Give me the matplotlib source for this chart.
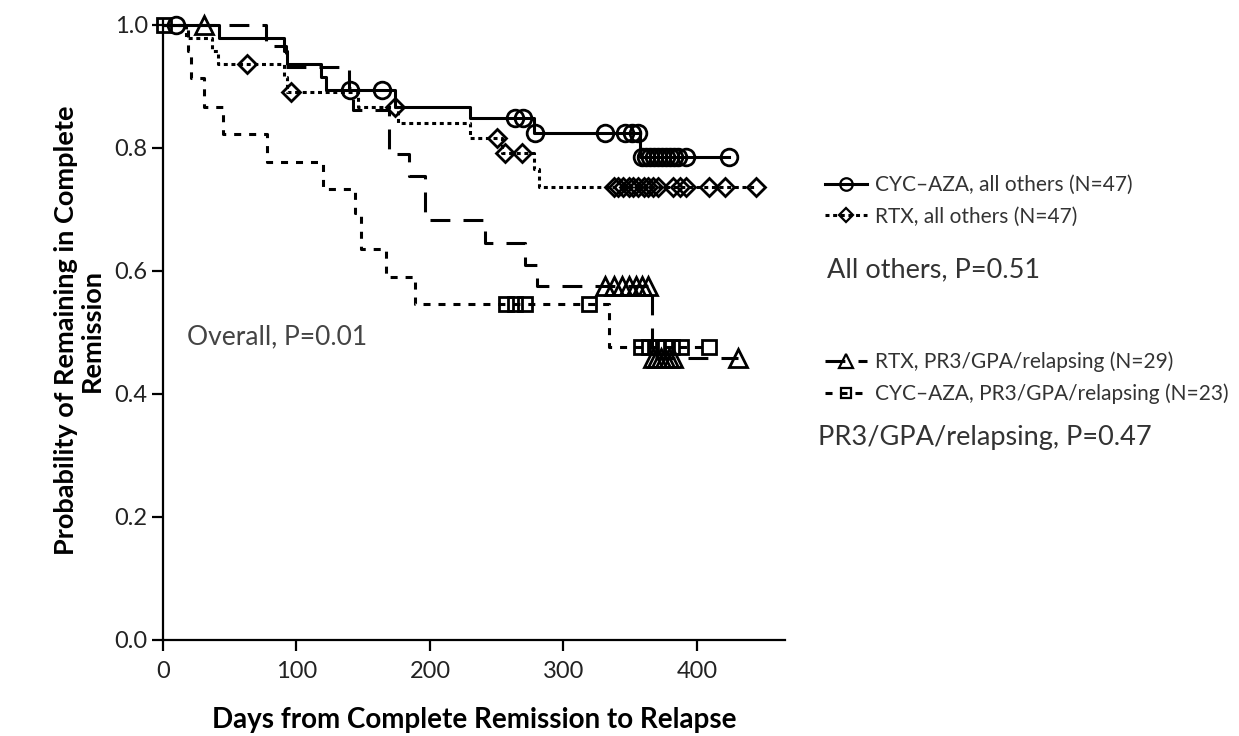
import numpy as np
import matplotlib
matplotlib.use("Agg")
import matplotlib.pyplot as plt
from matplotlib.lines import Line2D

plt.rcParams["font.family"] = ["Lato", "DejaVu Sans"]

# Kaplan-Meier step curves: event days and survival level after each step
CA_OTH_T = [0, 42, 91, 93, 118, 122, 174, 230, 278, 357]
CA_OTH_S = [1.0, 0.979, 0.957, 0.936, 0.915, 0.894, 0.867, 0.849, 0.824, 0.785]
CA_OTH_END = 424
CA_OTH_CENS = [10, 140, 164, 264, 270, 279, 331, 346, 351, 356, 359, 362, 365,
               368, 371, 374, 377, 380, 383, 386, 392, 424]

RTX_OTH_T = [0, 17, 37, 41, 91, 93, 146, 176, 230, 254, 278, 282]
RTX_OTH_S = [1.0, 0.979, 0.957, 0.936, 0.915, 0.891, 0.866, 0.840, 0.816,
             0.792, 0.765, 0.737]
RTX_OTH_END = 444
RTX_OTH_CENS = [63, 96, 174, 250, 256, 269, 338, 341, 345, 349, 352, 356, 360,
                363, 367, 371, 382, 387, 392, 409, 421, 444]

RTX_PR3_T = [0, 77, 92, 139, 142, 169, 184, 196, 241, 271, 280, 366]
RTX_PR3_S = [1.0, 0.966, 0.931, 0.897, 0.862, 0.790, 0.755, 0.683, 0.645,
             0.610, 0.575, 0.459]
RTX_PR3_END = 431
RTX_PR3_CENS = [31, 331, 338, 344, 349, 354, 359, 363, 367, 370, 373, 376,
                379, 382, 431]

CA_PR3_T = [0, 19, 21, 31, 45, 78, 120, 144, 148, 167, 189, 334]
CA_PR3_S = [1.0, 0.957, 0.913, 0.866, 0.822, 0.777, 0.733, 0.695, 0.636,
            0.590, 0.546, 0.476]
CA_PR3_END = 409
CA_PR3_CENS = [1, 257, 264, 271, 319, 358, 364, 370, 376, 381, 388, 409]

LABELS = [
    "CYC\u2013AZA, all others (N=47)",
    "RTX, all others (N=47)",
    "RTX, PR3/GPA/relapsing (N=29)",
    "CYC\u2013AZA, PR3/GPA/relapsing (N=23)",
]

LW = 2.2
STYLES = [
    dict(linestyle="-", marker="o", ms=12),
    dict(linestyle=(0, (1.3, 1.2)), marker="D", ms=9),
    dict(linestyle=(0, (6.5, 4.3)), marker="^", ms=13),
    dict(linestyle=(0, (2.3, 2.6)), marker="s", ms=9.5),
]


def level_at(t_steps, s_steps, days):
    idx = np.searchsorted(t_steps, days, side="right") - 1
    return np.asarray(s_steps)[idx]


fig = plt.figure(figsize=(12.39, 7.36), dpi=100)
ax = fig.add_axes([163 / 1239, 96 / 736, 622 / 1239, 620 / 736])

curves = [
    (CA_OTH_T, CA_OTH_S, CA_OTH_END, CA_OTH_CENS),
    (RTX_OTH_T, RTX_OTH_S, RTX_OTH_END, RTX_OTH_CENS),
    (RTX_PR3_T, RTX_PR3_S, RTX_PR3_END, RTX_PR3_CENS),
    (CA_PR3_T, CA_PR3_S, CA_PR3_END, CA_PR3_CENS),
]

handles = []
for (t, s, end, cens), st, lab in zip(curves, STYLES, LABELS):
    tt = np.append(t, end)
    ss = np.append(s, s[-1])
    ax.step(tt, ss, where="post", color="black", lw=LW,
            linestyle=st["linestyle"], clip_on=False)
    ax.plot(cens, level_at(t, s, cens), linestyle="none", marker=st["marker"],
            ms=st["ms"], mfc="none", mec="black", mew=2.0, clip_on=False)
    handles.append(Line2D([], [], color="black", lw=LW, linestyle=st["linestyle"],
                          marker=st["marker"], ms=st["ms"] * 0.75, mfc="none",
                          mec="black", mew=1.6, label=lab))

ax.set_xlim(0, 466)
ax.set_ylim(0, 1.008)
ax.set_xticks([0, 100, 200, 300, 400])
ax.set_yticks([0.0, 0.2, 0.4, 0.6, 0.8, 1.0])
ax.yaxis.set_major_formatter(matplotlib.ticker.FormatStrFormatter("%.1f"))
for side in ["top", "right"]:
    ax.spines[side].set_visible(False)
for side in ["left", "bottom"]:
    ax.spines[side].set_linewidth(1.6)
ax.tick_params(direction="out", length=8, width=1.6, labelsize=17,
               labelcolor="#222222")
ax.tick_params(axis="x", pad=7)
ax.tick_params(axis="y", pad=3)

ax.set_xlabel("Days from Complete Remission to Relapse", fontsize=20,
              fontweight="bold", labelpad=18)
ax.set_ylabel("Probability of Remaining in Complete\nRemission", fontsize=19.5,
              fontweight="bold", labelpad=8, linespacing=1.05)

ax.text(18, 0.493, "Overall, P=0.01", fontsize=19, color="#444444", va="center")

leg_kw = dict(loc="center left", frameon=False, handlelength=2.0,
              handletextpad=0.4, borderpad=0, borderaxespad=0,
              labelspacing=0.55, prop=dict(size=15), labelcolor="#333333")
fig.legend(handles=handles[:2], bbox_to_anchor=(825 / 1239, 1 - 201 / 736),
           **leg_kw)
fig.legend(handles=handles[2:], bbox_to_anchor=(825 / 1239, 1 - 378 / 736),
           **leg_kw)

fig.text(827 / 1239, 1 - 270 / 736, "All others, P=0.51", fontsize=19.5,
         color="#333333", va="center")
fig.text(818 / 1239, 1 - 438 / 736, "PR3/GPA/relapsing, P=0.47", fontsize=19.5,
         color="#333333", va="center")

fig.savefig("out.png", dpi=100)
